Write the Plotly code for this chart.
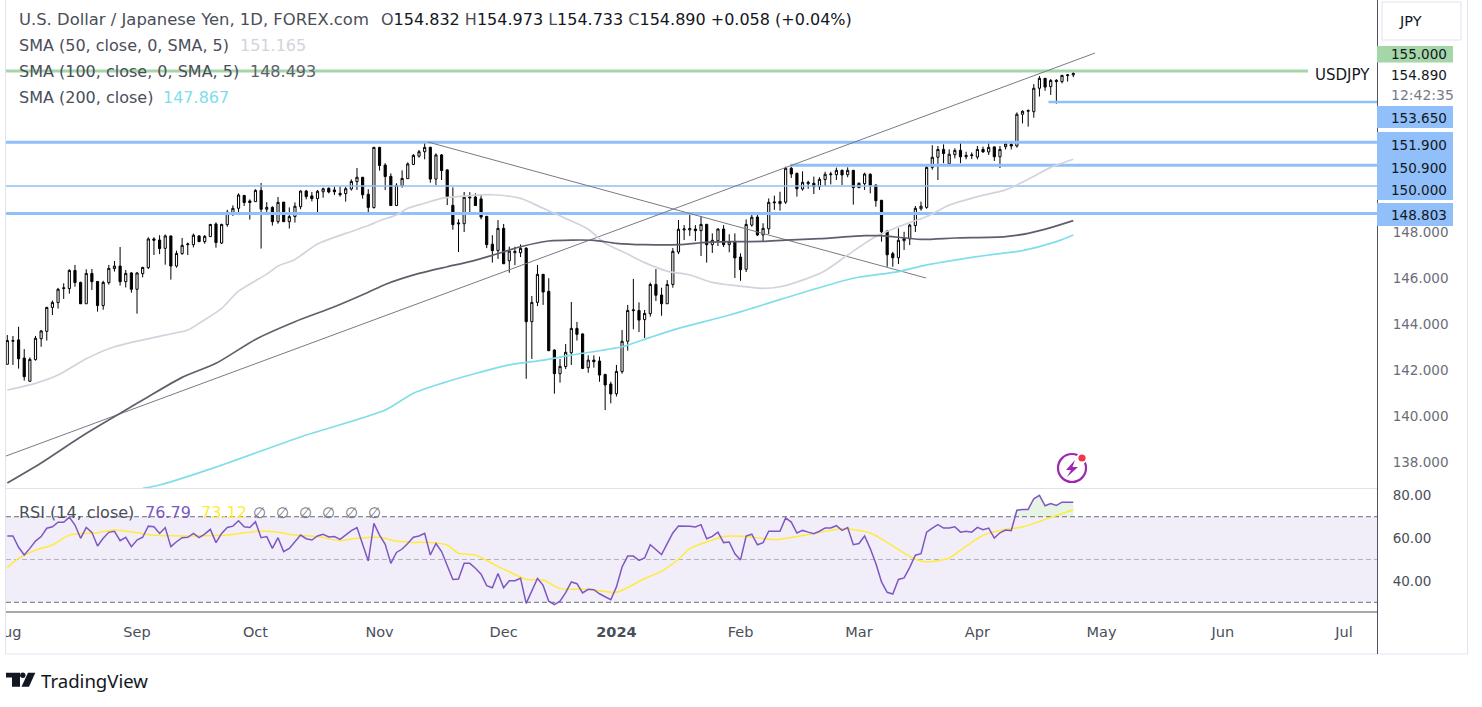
import numpy as np
import plotly.graph_objects as go

W, H = 1482, 707
FONT = "DejaVu Sans"

# daily bars, 2023-08-01 .. 2024-04-24
opens = [142.25,143.25,143.31,142.52,141.51,142.45,143.36,143.68,144.72,144.93,145.54,145.54,146.33,145.81,144.88,146.20,145.85,144.80,145.80,146.41,
         146.52,145.84,146.22,145.51,146.19,146.45,147.70,147.65,147.29,147.83,146.52,147.06,147.45,147.45,147.83,147.58,147.80,148.35,147.52,148.32,
         148.84,149.03,149.59,149.35,149.32,149.81,148.99,149.07,148.45,149.30,148.45,148.67,149.10,149.78,149.57,149.45,149.75,149.90,149.83,149.68,
         149.67,149.87,150.19,150.38,149.64,149.06,151.68,150.91,150.42,149.15,150.02,150.32,150.94,151.30,151.49,151.68,150.30,151.35,150.70,149.16,
         148.35,148.36,149.48,149.52,149.44,148.68,147.47,147.19,148.16,146.75,147.10,147.10,147.30,144.10,144.94,146.16,145.42,142.87,141.84,142.15,
         142.75,143.81,143.57,142.10,142.43,142.39,141.81,141.39,140.97,141.93,143.25,144.58,144.59,144.19,144.45,145.72,145.26,144.88,145.72,147.13,
         148.09,148.09,148.13,148.06,148.33,147.45,147.62,148.13,147.45,147.59,146.91,146.38,148.30,148.65,147.87,148.14,149.27,149.23,149.30,150.77,
         150.55,149.87,150.10,150.12,149.97,150.28,150.49,150.49,150.68,150.49,150.68,149.93,150.10,150.51,150.04,149.38,148.04,147.06,146.88,147.62,
         147.70,148.28,149.01,149.07,150.81,151.25,151.59,150.97,151.36,151.55,151.27,151.32,151.26,151.59,151.48,151.70,151.27,151.71,151.81,151.74,
         153.12,153.25,153.23,154.25,154.68,154.32,154.59,154.54,154.80,154.832]
highs = [143.52,143.48,143.88,142.91,142.55,143.48,143.74,144.75,145.02,145.57,145.77,146.38,146.57,145.84,146.38,146.39,145.87,145.88,146.57,146.74,
         147.35,146.35,146.25,146.25,146.49,147.77,147.77,147.86,147.89,147.83,147.19,147.74,147.54,147.93,147.86,147.87,148.35,148.42,148.36,148.96,
         149.16,149.68,149.61,149.42,149.86,150.13,149.30,149.12,149.52,149.30,149.07,149.29,149.81,149.83,149.74,149.83,149.93,149.94,149.97,149.97,
         149.97,150.29,150.78,150.39,149.86,151.70,151.70,150.99,150.55,150.12,150.68,151.03,151.39,151.57,151.93,151.71,151.42,151.39,150.73,149.94,
         148.55,149.74,149.73,149.68,149.64,148.70,147.86,148.52,148.35,147.36,147.36,147.46,147.33,145.22,146.57,146.17,145.99,142.90,142.48,143.13,
         144.96,144.09,143.59,142.64,142.64,142.58,141.83,141.49,142.22,143.74,144.83,145.96,144.94,144.61,145.80,146.39,145.58,145.91,147.30,148.52,
         148.30,148.78,148.30,148.70,148.36,147.94,148.16,148.30,147.90,147.94,147.07,148.55,148.86,148.78,148.38,149.46,149.58,149.75,150.84,150.84,
         150.58,150.64,150.23,150.41,150.38,150.62,150.62,150.80,150.72,150.81,150.70,150.15,150.58,150.55,150.07,149.39,148.09,147.14,148.16,148.01,
         148.35,149.13,149.32,150.94,151.77,151.74,151.81,151.59,151.64,151.96,151.49,151.46,151.74,151.71,151.96,151.72,151.74,151.93,151.90,153.20,
         153.29,153.33,154.43,154.78,154.70,154.65,154.65,154.83,154.87,154.973]
lows = [142.25,142.22,142.06,141.54,141.49,142.41,143.01,143.28,144.39,144.67,145.09,145.32,145.62,144.88,144.88,145.48,144.54,144.62,145.71,146.28,
        145.67,145.59,145.36,144.45,146.03,146.39,147.00,147.04,146.58,145.93,146.45,147.01,147.00,147.33,147.57,147.49,147.80,147.32,147.48,148.23,
        148.70,148.84,149.13,148.54,149.32,147.28,148.74,148.28,148.36,148.45,148.15,148.41,148.99,149.42,149.33,148.74,149.49,149.68,149.61,149.54,
        149.32,149.80,149.83,149.45,148.78,149.02,150.67,149.83,149.15,149.15,149.93,150.32,150.91,151.23,151.16,150.14,150.04,150.26,149.17,148.10,
        147.13,148.00,148.87,149.13,148.55,147.30,146.67,146.83,146.62,146.23,146.56,146.91,141.62,142.48,144.78,144.83,142.84,140.97,141.45,142.04,
        142.22,143.28,142.04,141.88,142.10,141.49,140.26,140.55,140.85,141.84,142.84,143.77,143.65,143.39,144.32,145.00,144.36,144.88,145.58,147.04,
        147.65,147.83,147.61,146.96,146.67,147.09,147.39,147.35,147.12,146.00,145.88,146.26,148.23,147.83,147.61,147.91,148.96,148.93,149.22,150.35,
        149.54,149.80,149.88,149.65,149.83,150.00,150.07,150.26,150.04,150.38,149.19,149.91,149.83,149.68,149.10,147.58,146.49,146.49,146.61,147.22,
        147.43,148.00,148.93,149.01,150.71,150.26,150.99,150.97,151.20,150.99,151.16,151.17,151.16,151.45,151.35,151.09,150.78,151.59,151.59,151.67,
        152.72,152.58,152.97,153.89,154.14,153.96,153.58,154.46,154.54,154.733]
closes = [143.28,143.28,142.49,141.71,142.46,143.38,143.70,144.72,144.94,145.51,145.57,146.33,145.80,144.88,146.20,145.84,144.80,145.81,146.42,146.52,
          145.84,146.20,145.51,146.22,146.46,147.70,147.64,147.28,147.83,146.52,147.07,147.42,147.48,147.86,147.58,147.81,148.33,147.54,148.33,148.86,
          149.03,149.61,149.28,149.28,149.81,148.99,149.07,148.45,149.29,148.45,148.67,149.12,149.78,149.54,149.45,149.77,149.88,149.74,149.75,149.62,
          149.88,150.20,150.38,149.62,149.07,151.68,150.89,150.41,149.15,150.03,150.33,150.96,151.33,151.49,151.68,150.30,151.35,150.67,149.54,148.32,
          148.39,149.51,149.52,149.15,148.65,147.45,147.19,148.16,146.62,147.17,147.16,147.29,144.10,144.94,146.16,145.39,142.84,141.84,142.16,142.77,
          143.81,143.55,142.07,142.43,142.36,141.78,141.35,140.96,141.94,143.25,144.59,144.61,144.17,144.46,145.72,145.25,144.88,145.72,147.16,148.12,
          148.13,148.15,148.06,148.33,147.45,147.64,148.13,147.45,147.58,146.87,146.36,148.33,148.64,147.87,148.16,149.29,149.30,149.33,150.77,150.52,
          149.88,150.16,150.16,149.97,150.29,150.51,150.52,150.68,150.48,150.68,149.93,150.12,150.52,150.03,149.36,148.01,147.01,146.88,147.64,147.72,
          148.30,149.03,149.12,150.81,151.25,151.59,151.41,151.38,151.55,151.27,151.33,151.35,151.59,151.48,151.68,151.27,151.59,151.83,151.74,153.12,
          153.25,153.28,154.25,154.68,154.30,154.59,154.54,154.81,154.83,154.89]

# moving averages, read at a handful of bars
sma50_x = [0,5,9,14,19,28,32,34,38,41,46,48,51,55,60,64,66,69,71,74,77,82,86,91,95,99,103,106,110,113,117,121,125,128,134,137,141,145,149,154,158,163,167,172,177,181,185,189]
sma50 = [141.13,141.42,141.78,142.49,143.01,143.52,143.74,144.03,144.68,145.43,146.17,146.52,146.81,147.48,147.94,148.28,148.49,148.74,149.03,149.25,149.46,149.58,149.62,149.46,149.03,148.59,148.12,147.51,147.04,146.67,146.30,146.13,145.81,145.70,145.55,145.62,145.91,146.32,147.00,147.80,148.23,148.67,149.17,149.54,149.83,150.29,150.81,151.165]
sma100_x = [0,6,13,21,25,31,37,44,51,58,64,67,73,78,82,86,91,96,104,108,113,119,124,128,134,138,144,152,155,162,168,177,181,185,189]
sma100 = [137.09,137.96,139.09,140.26,140.84,141.68,142.29,143.33,144.10,144.75,145.38,145.72,146.20,146.49,146.71,146.99,147.36,147.61,147.64,147.51,147.45,147.45,147.55,147.58,147.59,147.65,147.71,147.84,147.84,147.68,147.74,147.80,147.94,148.19,148.493]
sma200_x = [24,27,37,52,67,72,77,83,89,95,100,109,114,119,128,143,150,158,163,168,174,180,186,189]
sma200 = [136.85,137.00,137.78,139.09,140.26,140.99,141.42,141.85,142.22,142.43,142.65,143.01,143.42,143.81,144.39,145.51,145.99,146.28,146.57,146.78,147.00,147.19,147.58,147.867]

rsi = [61.0,61.0,55.7,52.1,55.2,58.6,60.7,64.6,65.3,67.4,67.4,69.8,66.1,59.9,65.0,62.7,56.3,59.9,62.7,63.2,
       58.8,60.4,56.0,59.1,60.4,65.6,65.3,62.2,64.9,56.0,58.3,60.2,60.4,62.2,60.2,61.9,64.1,57.9,62.2,65.0,
       65.6,68.1,65.3,65.0,67.7,60.2,60.7,55.2,60.2,53.7,55.2,58.3,61.4,59.7,59.1,61.0,61.8,60.5,60.7,59.4,
       61.4,63.5,64.9,57.1,49.3,66.9,61.4,57.1,48.2,53.3,54.9,57.5,60.4,61.0,62.2,52.1,57.5,53.7,47.4,40.7,
       40.9,48.2,48.2,45.9,43.1,37.8,36.8,43.5,36.8,40.1,40.1,41.2,29.5,35.0,41.2,37.9,30.5,28.9,30.5,34.5,
       39.5,38.7,34.4,36.1,35.9,34.0,32.6,31.2,37.2,46.5,51.6,51.6,49.6,50.7,56.9,54.6,52.3,57.4,62.4,65.6,
       65.6,65.5,65.2,66.3,59.7,60.8,62.8,57.9,58.2,52.7,49.8,61.0,61.8,56.9,57.9,63.2,63.2,63.2,69.4,67.5,
       62.4,63.6,62.8,62.1,63.2,64.7,64.7,65.8,63.6,64.9,56.9,57.5,61.0,55.1,48.1,39.5,34.7,33.9,40.7,41.4,
       46.3,52.0,52.7,62.8,64.7,66.3,64.7,64.7,65.3,62.8,63.2,62.8,65.0,63.9,64.7,60.0,62.5,63.8,63.5,73.0,
       73.4,73.4,78.4,80.0,75.1,76.2,75.3,76.8,76.7,76.79]
rsi_ma_x = [0,2,5,8,11,16,19,23,26,33,39,41,45,48,51,55,59,62,66,69,72,75,78,80,83,87,89,92,95,98,103,108,113,116,119,121,124,127,131,136,139,143,148,153,157,161,163,167,169,173,177,180,183,186,189]
rsi_ma = [46.3,50.5,54.4,56.8,61.4,62.5,63.8,62.5,61.3,61.0,61.4,62.1,63.3,62.7,61.4,60.7,58.8,59.9,60.4,58.6,58.0,58.0,56.8,52.9,52.1,46.7,44.3,40.7,40.4,36.4,36.1,34.7,41.1,44.5,50.1,55.1,58.2,60.8,60.8,59.3,60.3,62.1,64.4,62.4,56.3,50.1,48.8,50.7,54.3,61.3,64.1,65.2,67.8,70.6,73.12]

# axis labels
month_pos = [0,23,44,66,88,108,130,151,172,194,215.5,237]
month_lab = ["Aug","Sep","Oct","Nov","Dec","<b>2024</b>","Feb","Mar","Apr","May","Jun","Jul"]
price_ticks = [138,140,142,144,146,148]
rsi_ticks = [40,60,80]

# drawn levels: price, first bar, last bar, width
X_MIN, X_MAX = -0.23, 242.85
blue_levels = [(153.65,184.6,X_MAX,2.5),(151.9,X_MIN,X_MAX,3),(150.9,138.8,X_MAX,3),(150.0,X_MIN,X_MAX,1.4),(148.803,X_MIN,X_MAX,3)]
green_level = (155.0,X_MIN,230.6,3)
rising = ([-0.23,192.85],[138.26,155.78])
falling = ([74.6,162.9],[151.91,146.0])

BLUE = "#90bff9"
GREEN = "#a5d6a7"
GREY = "#787b86"
TXT = "#4a4e59"


def px(x):
    return x / W


def py(y):
    return 1 - y / H


bars = list(range(len(closes)))
fig = go.Figure()

fig.add_trace(go.Candlestick(x=bars, open=opens, high=highs, low=lows, close=closes,
                             increasing=dict(line=dict(color="#000000", width=1), fillcolor="#ffffff"),
                             decreasing=dict(line=dict(color="#000000", width=1), fillcolor="#000000"),
                             whiskerwidth=0, xaxis="x", yaxis="y"))

for lvl, x0, x1, w in blue_levels:
    fig.add_trace(go.Scatter(x=[x0, x1], y=[lvl, lvl], mode="lines", line=dict(color=BLUE, width=w)))
fig.add_trace(go.Scatter(x=[green_level[1], green_level[2]], y=[green_level[0]] * 2, mode="lines",
                         line=dict(color=GREEN, width=green_level[3])))
for xs, ys in (rising, falling):
    fig.add_trace(go.Scatter(x=xs, y=ys, mode="lines", line=dict(color=GREY, width=1)))

fig.add_trace(go.Scatter(x=sma50_x, y=sma50, mode="lines", line=dict(color="#d1d4dc", width=1.7, shape="spline", smoothing=0.7)))
fig.add_trace(go.Scatter(x=sma100_x, y=sma100, mode="lines", line=dict(color="#5d606b", width=1.7, shape="spline", smoothing=0.7)))
fig.add_trace(go.Scatter(x=sma200_x, y=sma200, mode="lines", line=dict(color="#80deea", width=1.7, shape="spline", smoothing=0.7)))

# RSI pane, green part above the 70 line
over = np.maximum(np.array(rsi[178:]), 70)
fig.add_trace(go.Scatter(x=bars[178:], y=[70] * len(over), mode="lines", line=dict(width=0), yaxis="y2"))
fig.add_trace(go.Scatter(x=bars[178:], y=over, mode="lines", line=dict(width=0), fill="tonexty",
                         fillcolor="rgba(76,175,80,0.14)", yaxis="y2"))
fig.add_trace(go.Scatter(x=rsi_ma_x, y=rsi_ma, mode="lines", line=dict(color="#ffeb3b", width=1.5, shape="spline", smoothing=0.7), yaxis="y2"))
fig.add_trace(go.Scatter(x=bars, y=rsi, mode="lines", line=dict(color="#7e57c2", width=1.5), yaxis="y2"))


def rect(x0, y0, x1, y1, color, layer="above"):
    return dict(type="rect", xref="paper", yref="paper", x0=px(x0), x1=px(x1), y0=py(y0), y1=py(y1),
                fillcolor=color, line=dict(width=0), layer=layer)


def poly(points, color):
    d = "M" + " L".join(f"{px(a):.5f},{py(b):.5f}" for a, b in points) + " Z"
    return dict(type="path", xref="paper", yref="paper", path=d, fillcolor=color, line=dict(width=0), layer="above")


def circle(cx, cy, r, fill, edge=None, lw=0):
    return dict(type="circle", xref="paper", yref="paper", x0=px(cx - r), x1=px(cx + r), y0=py(cy + r), y1=py(cy - r),
                fillcolor=fill, line=dict(color=edge, width=lw) if edge else dict(width=0), layer="above")


shapes = [
    dict(type="rect", xref="paper", yref="y2", x0=px(6), x1=px(1377), y0=30, y1=70,
         fillcolor="rgba(126,87,194,0.1)", line=dict(width=0), layer="below"),
    rect(0, 0, 5, 654, "#ffffff"),
    rect(5, 0, 6, 654, "#e0e3eb"),
    rect(5, 653, 1468, 655, "#f0f3fa"),
    rect(1467, 0, 1468, 654, "#e0e3eb"),
    rect(6, 488, 1377, 489, "#e0e3eb"),
    rect(6, 611.5, 1377, 612.5, "#50535e"),
    rect(1377, 0, 1378, 654, "#50535e"),
    # JPY button
    dict(type="rect", xref="paper", yref="paper", x0=px(1382), x1=px(1461), y0=py(40), y1=py(2),
         fillcolor="#ffffff", line=dict(color="#e0e3eb", width=1), layer="above"),
    # price labels
    rect(1377, 46, 1453, 62.5, GREEN),
    rect(1377, 106, 1453, 128, BLUE),
    rect(1377, 132, 1453, 200, BLUE),
    rect(1377, 203, 1453, 226, BLUE),
    # bolt badge
    circle(1072, 468, 14, "rgba(0,0,0,0)", "#9c27b0", 2.2),
    circle(1082, 458, 5.5, "#ffffff"),
    circle(1082, 458, 3.6, "#f23645"),
    poly([(1075, 460), (1066, 470), (1071, 470), (1067, 477), (1078, 467), (1072.5, 467)], "#9c27b0"),
    # TradingView mark
    poly([(6, 672.7), (20, 672.7), (20, 686.7), (12, 686.7), (12, 677.5), (6, 677.5)], "#131722"),
    circle(22.8, 675.2, 2.7, "#131722"),
    poly([(28, 672.7), (35.3, 672.7), (29, 686.7), (21.5, 686.7)], "#131722"),
]
for lvl, col in ((70, "#6a6d78"), (50, "#b2b5be"), (30, "#6a6d78")):
    shapes.append(dict(type="line", xref="paper", yref="y2", x0=px(6), x1=px(1377), y0=lvl, y1=lvl,
                       line=dict(color=col, width=1, dash="5px,3px"), layer="below"))


def note(x, y, text, color=TXT, size=13.5, xanchor="left", family=FONT):
    return dict(xref="paper", yref="paper", x=px(x), y=py(y + 0.5), text=text, showarrow=False, xanchor=xanchor,
                yanchor="middle", borderpad=0, font=dict(family=family, size=size, color=color))


def ohlc(tag, val):
    return f'{tag}<span style="color:#131722">{val}</span>'


header = " ".join([ohlc("O", "154.832"), ohlc("H", "154.973"), ohlc("L", "154.733"), ohlc("C", "154.890"),
                   '<span style="color:#131722">+0.058 (+0.04%)</span>'])
annotations = [
    note(18, 19, "U.S. Dollar / Japanese Yen, 1D, FOREX.com", size=16.4),
    note(380, 19, header, size=16),
    note(18, 45, "SMA (50, close, 0, SMA, 5)", size=16),
    note(239, 45, "151.165", "#d1d4dc", 16),
    note(18, 71, "SMA (100, close, 0, SMA, 5)", size=16),
    note(249, 71, "148.493", "#5d606b", 16),
    note(18, 97, "SMA (200, close)", size=16),
    note(162, 97, "147.867", "#80deea", 16),
    note(18, 512, "RSI (14, close)", size=16),
    note(144, 512, "76.79", "#7e57c2", 16),
    note(200, 512, "73.12", "#ffeb3b", 16),
    note(1398, 21, "JPY", "#131722", 14.5),
    note(1314, 75, "USDJPY", "#131722", 15),
    note(1390, 54, "155.000", "#131722"),
    note(1390, 75, "154.890", "#131722"),
    note(1390, 94, "12:42:35", GREY, 14),
    note(1390, 118, "153.650", "#131722"),
    note(1390, 144, "151.900", "#131722"),
    note(1390, 167, "150.900", "#131722"),
    note(1390, 190, "150.000", "#131722"),
    note(1390, 214.5, "148.803", "#131722"),
    note(40, 679.5, "TradingView", "#131722", 18.6, family="Noto Sans"),
]
for cx in (259, 282, 305, 328, 351, 374):
    annotations.append(note(cx, 512, "∅", GREY, 15, xanchor="center"))

fig.update_layout(
    width=W, height=H, margin=dict(l=0, r=0, t=0, b=0), paper_bgcolor="#ffffff", plot_bgcolor="#ffffff",
    showlegend=False, boxgap=0.45, shapes=shapes, annotations=annotations,
    font=dict(family=FONT, size=13.5, color=TXT),
    xaxis=dict(domain=[px(6), px(1377)], range=[X_MIN, X_MAX], anchor="y2", rangeslider=dict(visible=False),
               tickmode="array", tickvals=month_pos, ticktext=month_lab, showgrid=False, zeroline=False,
               showline=False, ticks="outside", ticklen=7, tickcolor="rgba(0,0,0,0)", ticklabeloverflow="allow",
               tickfont=dict(size=14.5), automargin=False),
    yaxis=dict(domain=[py(488), 1], range=[136.87, 158.087], side="right", anchor="x", tickmode="array",
               tickvals=price_ticks, ticktext=[f"{v:.3f}" for v in price_ticks], showgrid=False, zeroline=False,
               showline=False, ticks="outside", ticklen=12, tickcolor="rgba(0,0,0,0)", tickfont=dict(color="#6a6d78"),
               automargin=False),
    yaxis2=dict(domain=[py(612), py(489)], range=[25.47, 82.95], side="right", anchor="x", tickmode="array",
                tickvals=rsi_ticks, ticktext=[f"{v:.2f}" for v in rsi_ticks], showgrid=False, zeroline=False,
                showline=False, ticks="outside", ticklen=12, tickcolor="rgba(0,0,0,0)", automargin=False),
)

fig.write_html("out.html", config={"displayModeBar": False},
               post_script="document.body.style.margin='0';document.body.style.overflow='hidden';")
